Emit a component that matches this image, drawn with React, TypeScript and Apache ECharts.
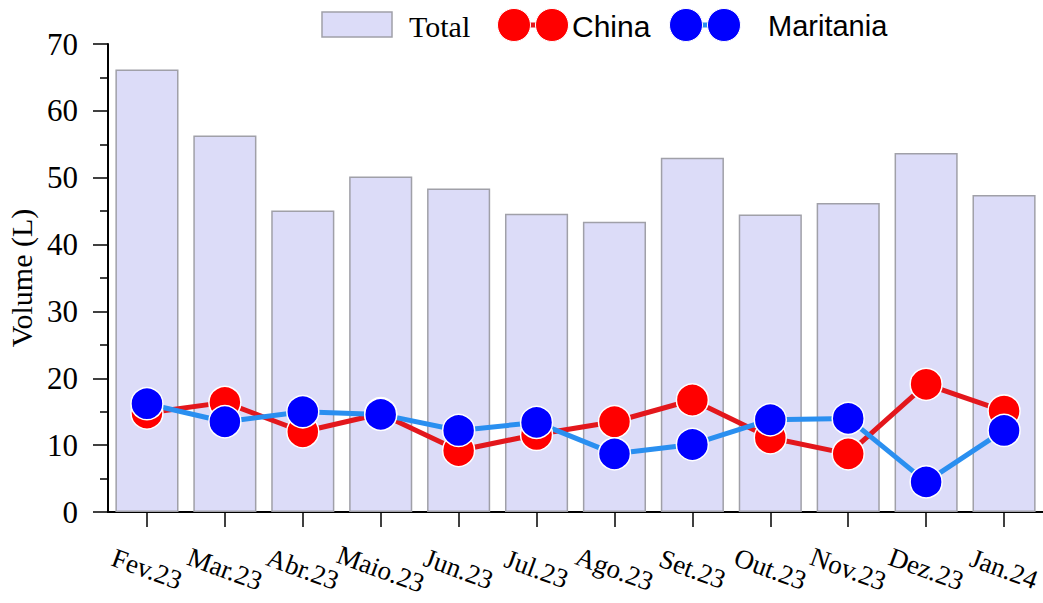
import React, { useEffect, useRef } from "react";
import * as echarts from "echarts";

const categories = ["Fev.23", "Mar.23", "Abr.23", "Maio.23", "Jun.23", "Jul.23", "Ago.23", "Set.23", "Out.23", "Nov.23", "Dez.23", "Jan.24"];
const totalValues = [66.2, 56.3, 45.1, 50.2, 48.4, 44.6, 43.4, 53.0, 44.5, 46.2, 53.7, 47.4];
const chinaValues = [14.8, 16.4, 12.0, 14.7, 9.2, 11.6, 13.5, 16.75, 11.1, 8.7, 19.1, 15.1];
const maritaniaValues = [16.2, 13.5, 15.0, 14.6, 12.2, 13.4, 8.7, 10.1, 13.8, 14.0, 4.5, 12.2];
const legendNames = ["Total", "China", "Maritania"];

const SERIF = "'Liberation Serif', 'Times New Roman', serif";
const SANS = "'Liberation Sans', Arial, sans-serif";
const BAR_FILL = "#dcdcf8";
const BAR_EDGE = "#a0a0a8";

export default function App() {
  const ref = useRef<HTMLDivElement>(null);
  useEffect(() => {
    if (!ref.current) return;
    const chart = echarts.init(ref.current, null, { renderer: "svg" });
    const legendY = 25;
    chart.setOption({
      animation: false,
      backgroundColor: "#ffffff",
      grid: { left: 108, right: 0, top: 44, bottom: 91, containLabel: false, outerBoundsMode: "none" },
      xAxis: {
        type: "category",
        data: categories,
        axisLine: { lineStyle: { color: "#000", width: 2 } },
        axisTick: { show: true, alignWithLabel: true, length: 15, lineStyle: { color: "#000", width: 1.5 } },
        axisLabel: {
          rotate: -20,
          align: "center",
          verticalAlign: "middle",
          margin: 57,
          fontFamily: SERIF,
          fontSize: 27,
          color: "#000",
          interval: 0,
        },
      },
      yAxis: {
        type: "value",
        min: 0,
        max: 70,
        interval: 10,
        name: "Volume (L)",
        nameLocation: "middle",
        nameRotate: 90,
        nameGap: 70,
        nameTextStyle: { fontFamily: SERIF, fontSize: 30, color: "#000" },
        axisLine: { show: true, lineStyle: { color: "#000", width: 2 } },
        axisTick: { show: true, length: 15, lineStyle: { color: "#000", width: 1.5 } },
        minorTick: { show: true, splitNumber: 2, length: 8, lineStyle: { color: "#000", width: 1.5 } },
        splitLine: { show: false },
        axisLabel: { fontFamily: SERIF, fontSize: 31, color: "#000", margin: 30 },
      },
      series: [
        {
          name: legendNames[0],
          type: "bar",
          data: totalValues,
          barCategoryGap: "19%",
          itemStyle: { color: BAR_FILL, borderColor: BAR_EDGE, borderWidth: 1.5 },
        },
        {
          name: legendNames[1],
          type: "line",
          data: chinaValues,
          symbol: "circle",
          symbolSize: 32,
          lineStyle: { color: "#e3171c", width: 5 },
          itemStyle: { color: "#ff0000", borderColor: "#ffffff", borderWidth: 1.5 },
        },
        {
          name: legendNames[2],
          type: "line",
          data: maritaniaValues,
          symbol: "circle",
          symbolSize: 32,
          lineStyle: { color: "#2a8ff0", width: 5 },
          itemStyle: { color: "#0000ff", borderColor: "#ffffff", borderWidth: 1.5 },
        },
      ],
      graphic: [
        { type: "rect", shape: { x: 322, y: 12, width: 70, height: 25 }, style: { fill: BAR_FILL, stroke: BAR_EDGE, lineWidth: 1.5 } },
        { type: "text", x: 409, y: legendY + 1, style: { text: legendNames[0], font: `30px ${SERIF}`, fill: "#000", verticalAlign: "middle", align: "left" } },
        { type: "line", shape: { x1: 514, y1: legendY, x2: 552, y2: legendY }, style: { stroke: "#e3171c", lineWidth: 5 } },
        { type: "circle", shape: { cx: 514, cy: legendY, r: 16.5 }, style: { fill: "#ff0000", stroke: "#fff", lineWidth: 1 } },
        { type: "circle", shape: { cx: 552, cy: legendY, r: 16.5 }, style: { fill: "#ff0000", stroke: "#fff", lineWidth: 1 } },
        { type: "text", x: 572, y: legendY + 1, style: { text: legendNames[1], font: `30px ${SANS}`, fill: "#000", verticalAlign: "middle", align: "left" } },
        { type: "line", shape: { x1: 686, y1: legendY, x2: 724, y2: legendY }, style: { stroke: "#2a8ff0", lineWidth: 5 } },
        { type: "circle", shape: { cx: 686, cy: legendY, r: 16.5 }, style: { fill: "#0000ff", stroke: "#fff", lineWidth: 1 } },
        { type: "circle", shape: { cx: 724, cy: legendY, r: 16.5 }, style: { fill: "#0000ff", stroke: "#fff", lineWidth: 1 } },
        { type: "text", x: 768, y: legendY + 1, style: { text: legendNames[2], font: `29px ${SANS}`, fill: "#000", verticalAlign: "middle", align: "left" } },
      ],
    });
    return () => chart.dispose();
  }, []);
  return <div ref={ref} style={{ position: "fixed", left: 0, top: 0, width: 1043, height: 603 }} />;
}
